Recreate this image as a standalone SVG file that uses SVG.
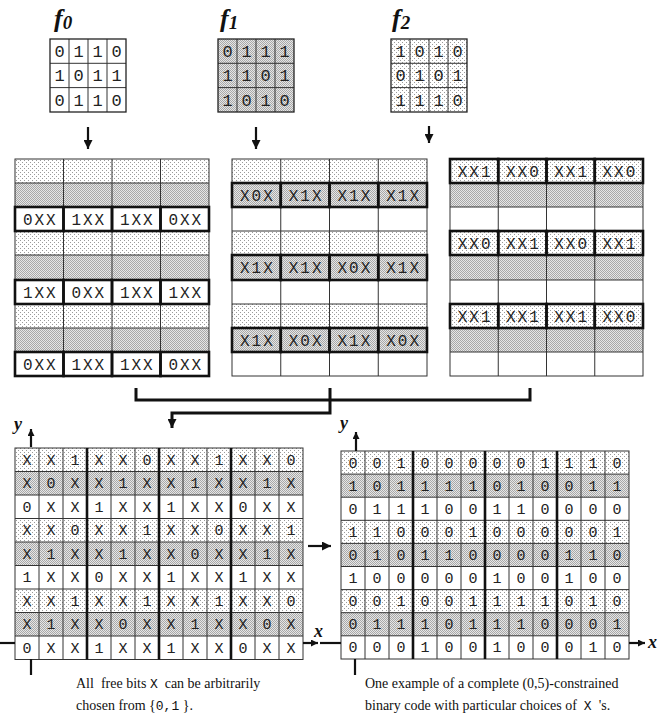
<svg xmlns="http://www.w3.org/2000/svg" width="667" height="717" viewBox="0 0 667 717">
<defs>
<pattern id="lite" width="4" height="4" patternUnits="userSpaceOnUse"><rect width="4" height="4" fill="#fff"/><rect width="1" height="1" fill="#9a9a9a"/><rect x="2" y="2" width="1" height="1" fill="#9a9a9a"/></pattern>
<pattern id="dense" width="2" height="2" patternUnits="userSpaceOnUse"><rect width="2" height="2" fill="#e6e6e6"/><rect width="1" height="1" fill="#a8a8a8"/><rect x="1" y="1" width="1" height="1" fill="#a8a8a8"/></pattern>
<marker id="ah" viewBox="0 0 10 10" refX="10" refY="5" markerWidth="7" markerHeight="7" markerUnits="userSpaceOnUse" orient="auto"><path d="M0,0 L10,5 L0,10 z" fill="#111"/></marker>
<marker id="ahb" viewBox="0 0 10 10" refX="10" refY="5" markerWidth="9" markerHeight="9" markerUnits="userSpaceOnUse" orient="auto"><path d="M0,0 L10,5 L0,10 z" fill="#111"/></marker>
</defs>
<style>
.g{stroke:#333;stroke-width:1;fill:none}
.gt{stroke:#111;stroke-width:2.6;fill:none}
.ob{stroke:#222;stroke-width:1.3;fill:none}
.bold{stroke:#111;stroke-width:2.6;fill:none}
.t{font-family:"Liberation Mono","DejaVu Sans Mono",monospace;fill:#222;text-anchor:middle}
.s17{font-size:17px}
.s16{font-size:16px;letter-spacing:2px}
.s15{font-size:15px}
.fl{font-family:"Liberation Serif","Times New Roman",serif;font-style:italic;font-weight:bold;font-size:26px;fill:#111}
.ax{font-family:"Liberation Serif","Times New Roman",serif;font-style:italic;font-weight:bold;font-size:18px;fill:#111}
.cap{font-family:"Liberation Serif","Times New Roman",serif;font-size:14px;fill:#111;white-space:pre}
.mono{font-family:"Liberation Mono",monospace;font-size:13px}
.con{stroke:#111;stroke-width:2.2;fill:none}
.cb{stroke:#111;stroke-width:3;fill:none}
</style>

<!-- f0 -->
<g id="f0">
<text class="fl" x="54" y="27">f<tspan font-size="19" dy="2">0</tspan></text>
<rect x="50" y="39" width="76" height="73" fill="#fff"/>
<path class="g" d="M69,39V112M88,39V112M107,39V112M50,63.3H126M50,87.6H126"/>
<rect class="ob" x="50" y="39" width="76" height="73"/>
<g class="t s17">
<text x="59.5" y="57">0</text><text x="78.5" y="57">1</text><text x="97.5" y="57">1</text><text x="116.5" y="57">0</text>
<text x="59.5" y="81.3">1</text><text x="78.5" y="81.3">0</text><text x="97.5" y="81.3">1</text><text x="116.5" y="81.3">1</text>
<text x="59.5" y="105.6">0</text><text x="78.5" y="105.6">1</text><text x="97.5" y="105.6">1</text><text x="116.5" y="105.6">0</text>
</g>
</g>

<!-- f1 -->
<g id="f1">
<text class="fl" x="220" y="27">f<tspan font-size="19" dy="2">1</tspan></text>
<rect x="218" y="39" width="76" height="73" fill="url(#dense)"/>
<path class="g" d="M237,39V112M256,39V112M275,39V112M218,63.3H294M218,87.6H294"/>
<rect class="ob" x="218" y="39" width="76" height="73"/>
<g class="t s17">
<text x="227.5" y="57">0</text><text x="246.5" y="57">1</text><text x="265.5" y="57">1</text><text x="284.5" y="57">1</text>
<text x="227.5" y="81.3">1</text><text x="246.5" y="81.3">1</text><text x="265.5" y="81.3">0</text><text x="284.5" y="81.3">1</text>
<text x="227.5" y="105.6">1</text><text x="246.5" y="105.6">0</text><text x="265.5" y="105.6">1</text><text x="284.5" y="105.6">0</text>
</g>
</g>

<!-- f2 -->
<g id="f2">
<text class="fl" x="392" y="27">f<tspan font-size="19" dy="2">2</tspan></text>
<rect x="391" y="39" width="76" height="73" fill="url(#lite)"/>
<path class="g" d="M410,39V112M429,39V112M448,39V112M391,63.3H467M391,87.6H467"/>
<rect class="ob" x="391" y="39" width="76" height="73"/>
<g class="t s17">
<text x="400.5" y="57">1</text><text x="419.5" y="57">0</text><text x="438.5" y="57">1</text><text x="457.5" y="57">0</text>
<text x="400.5" y="81.3">0</text><text x="419.5" y="81.3">1</text><text x="438.5" y="81.3">0</text><text x="457.5" y="81.3">1</text>
<text x="400.5" y="105.6">1</text><text x="419.5" y="105.6">1</text><text x="438.5" y="105.6">1</text><text x="457.5" y="105.6">0</text>
</g>
</g>

<!-- grid from f0 -->
<g id="grid0">
<rect x="15" y="159" width="194" height="24" fill="url(#lite)"/>
<rect x="15" y="183" width="194" height="24" fill="url(#dense)"/>
<rect x="15" y="207" width="194" height="24" fill="#fff"/>
<rect x="15" y="231" width="194" height="24" fill="url(#lite)"/>
<rect x="15" y="255" width="194" height="25" fill="url(#dense)"/>
<rect x="15" y="280" width="194" height="24" fill="#fff"/>
<rect x="15" y="304" width="194" height="24" fill="url(#lite)"/>
<rect x="15" y="328" width="194" height="24" fill="url(#dense)"/>
<rect x="15" y="352" width="194" height="24" fill="#fff"/>
<path class="g" d="M63.5,159V376M112,159V376M160.5,159V376M15,183H209M15,207H209M15,231H209M15,255H209M15,280H209M15,304H209M15,328H209M15,352H209"/>
<rect class="g" x="15" y="159" width="194" height="217"/>
<g class="bold">
<rect x="15" y="207" width="48.5" height="24"/><rect x="63.5" y="207" width="48.5" height="24"/><rect x="112" y="207" width="48.5" height="24"/><rect x="160.5" y="207" width="48.5" height="24"/>
<rect x="15" y="280" width="48.5" height="24"/><rect x="63.5" y="280" width="48.5" height="24"/><rect x="112" y="280" width="48.5" height="24"/><rect x="160.5" y="280" width="48.5" height="24"/>
<rect x="15" y="352" width="48.5" height="24"/><rect x="63.5" y="352" width="48.5" height="24"/><rect x="112" y="352" width="48.5" height="24"/><rect x="160.5" y="352" width="48.5" height="24"/>
</g>
<g class="t s16">
<text x="40.3" y="224.5">0XX</text><text x="88.8" y="224.5">1XX</text><text x="137.3" y="224.5">1XX</text><text x="185.8" y="224.5">0XX</text>
<text x="40.3" y="297.5">1XX</text><text x="88.8" y="297.5">0XX</text><text x="137.3" y="297.5">1XX</text><text x="185.8" y="297.5">1XX</text>
<text x="40.3" y="369.5">0XX</text><text x="88.8" y="369.5">1XX</text><text x="137.3" y="369.5">1XX</text><text x="185.8" y="369.5">0XX</text>
</g>
</g>

<!-- grid from f1 -->
<g id="grid1">
<rect x="232" y="159" width="195" height="24" fill="url(#lite)"/>
<rect x="232" y="183" width="195" height="24" fill="url(#dense)"/>
<rect x="232" y="207" width="195" height="24" fill="#fff"/>
<rect x="232" y="231" width="195" height="24" fill="url(#lite)"/>
<rect x="232" y="255" width="195" height="25" fill="url(#dense)"/>
<rect x="232" y="280" width="195" height="24" fill="#fff"/>
<rect x="232" y="304" width="195" height="24" fill="url(#lite)"/>
<rect x="232" y="328" width="195" height="24" fill="url(#dense)"/>
<rect x="232" y="352" width="195" height="24" fill="#fff"/>
<path class="g" d="M280.75,159V376M329.5,159V376M378.25,159V376M232,183H427M232,207H427M232,231H427M232,255H427M232,280H427M232,304H427M232,328H427M232,352H427"/>
<rect class="g" x="232" y="159" width="195" height="217"/>
<g class="bold">
<rect x="232" y="183" width="48.75" height="24"/><rect x="280.75" y="183" width="48.75" height="24"/><rect x="329.5" y="183" width="48.75" height="24"/><rect x="378.25" y="183" width="48.75" height="24"/>
<rect x="232" y="255" width="48.75" height="25"/><rect x="280.75" y="255" width="48.75" height="25"/><rect x="329.5" y="255" width="48.75" height="25"/><rect x="378.25" y="255" width="48.75" height="25"/>
<rect x="232" y="328" width="48.75" height="24"/><rect x="280.75" y="328" width="48.75" height="24"/><rect x="329.5" y="328" width="48.75" height="24"/><rect x="378.25" y="328" width="48.75" height="24"/>
</g>
<g class="t s16">
<text x="257.4" y="200.5">X0X</text><text x="306.1" y="200.5">X1X</text><text x="354.9" y="200.5">X1X</text><text x="403.6" y="200.5">X1X</text>
<text x="257.4" y="273">X1X</text><text x="306.1" y="273">X1X</text><text x="354.9" y="273">X0X</text><text x="403.6" y="273">X1X</text>
<text x="257.4" y="345.5">X1X</text><text x="306.1" y="345.5">X0X</text><text x="354.9" y="345.5">X1X</text><text x="403.6" y="345.5">X0X</text>
</g>
</g>

<!-- grid from f2 -->
<g id="grid2">
<rect x="450" y="159" width="193" height="24" fill="url(#lite)"/>
<rect x="450" y="183" width="193" height="24" fill="url(#dense)"/>
<rect x="450" y="207" width="193" height="24" fill="#fff"/>
<rect x="450" y="231" width="193" height="24" fill="url(#lite)"/>
<rect x="450" y="255" width="193" height="25" fill="url(#dense)"/>
<rect x="450" y="280" width="193" height="24" fill="#fff"/>
<rect x="450" y="304" width="193" height="24" fill="url(#lite)"/>
<rect x="450" y="328" width="193" height="24" fill="url(#dense)"/>
<rect x="450" y="352" width="193" height="24" fill="#fff"/>
<path class="g" d="M498.25,159V376M546.5,159V376M594.75,159V376M450,183H643M450,207H643M450,231H643M450,255H643M450,280H643M450,304H643M450,328H643M450,352H643"/>
<rect class="g" x="450" y="159" width="193" height="217"/>
<g class="bold">
<rect x="450" y="159" width="48.25" height="24"/><rect x="498.25" y="159" width="48.25" height="24"/><rect x="546.5" y="159" width="48.25" height="24"/><rect x="594.75" y="159" width="48.25" height="24"/>
<rect x="450" y="231" width="48.25" height="24"/><rect x="498.25" y="231" width="48.25" height="24"/><rect x="546.5" y="231" width="48.25" height="24"/><rect x="594.75" y="231" width="48.25" height="24"/>
<rect x="450" y="304" width="48.25" height="24"/><rect x="498.25" y="304" width="48.25" height="24"/><rect x="546.5" y="304" width="48.25" height="24"/><rect x="594.75" y="304" width="48.25" height="24"/>
</g>
<g class="t s16">
<text x="475.1" y="176.5">XX1</text><text x="523.4" y="176.5">XX0</text><text x="571.6" y="176.5">XX1</text><text x="619.9" y="176.5">XX0</text>
<text x="475.1" y="248.5">XX0</text><text x="523.4" y="248.5">XX1</text><text x="571.6" y="248.5">XX0</text><text x="619.9" y="248.5">XX1</text>
<text x="475.1" y="321.5">XX1</text><text x="523.4" y="321.5">XX1</text><text x="571.6" y="321.5">XX1</text><text x="619.9" y="321.5">XX0</text>
</g>
</g>

<!-- combined grid with free bits -->
<g id="combined">
<rect x="15" y="448" width="288" height="23.5" fill="url(#lite)"/>
<rect x="15" y="471.5" width="288" height="23.5" fill="url(#dense)"/>
<rect x="15" y="495" width="288" height="23.5" fill="#fff"/>
<rect x="15" y="518.5" width="288" height="23.5" fill="url(#lite)"/>
<rect x="15" y="542" width="288" height="23.5" fill="url(#dense)"/>
<rect x="15" y="565.5" width="288" height="23.5" fill="#fff"/>
<rect x="15" y="589" width="288" height="23.5" fill="url(#lite)"/>
<rect x="15" y="612.5" width="288" height="23.5" fill="url(#dense)"/>
<rect x="15" y="636" width="288" height="23.5" fill="#fff"/>
<path class="g" d="M39,448V659.5M63,448V659.5M111,448V659.5M135,448V659.5M183,448V659.5M207,448V659.5M255,448V659.5M279,448V659.5M15,471.5H303M15,495H303M15,518.5H303M15,542H303M15,565.5H303M15,589H303M15,612.5H303M15,636H303"/>
<rect class="g" x="15" y="448" width="288" height="211.5"/>
<path class="gt" d="M87,448V659.5M159,448V659.5M231,448V659.5"/>
<g class="t s15">
<text x="27" y="464.8">X</text><text x="51" y="464.8">X</text><text x="75" y="464.8">1</text><text x="99" y="464.8">X</text><text x="123" y="464.8">X</text><text x="147" y="464.8">0</text><text x="171" y="464.8">X</text><text x="195" y="464.8">X</text><text x="219" y="464.8">1</text><text x="243" y="464.8">X</text><text x="267" y="464.8">X</text><text x="291" y="464.8">0</text>
<text x="27" y="488.3">X</text><text x="51" y="488.3">0</text><text x="75" y="488.3">X</text><text x="99" y="488.3">X</text><text x="123" y="488.3">1</text><text x="147" y="488.3">X</text><text x="171" y="488.3">X</text><text x="195" y="488.3">1</text><text x="219" y="488.3">X</text><text x="243" y="488.3">X</text><text x="267" y="488.3">1</text><text x="291" y="488.3">X</text>
<text x="27" y="511.8">0</text><text x="51" y="511.8">X</text><text x="75" y="511.8">X</text><text x="99" y="511.8">1</text><text x="123" y="511.8">X</text><text x="147" y="511.8">X</text><text x="171" y="511.8">1</text><text x="195" y="511.8">X</text><text x="219" y="511.8">X</text><text x="243" y="511.8">0</text><text x="267" y="511.8">X</text><text x="291" y="511.8">X</text>
<text x="27" y="535.3">X</text><text x="51" y="535.3">X</text><text x="75" y="535.3">0</text><text x="99" y="535.3">X</text><text x="123" y="535.3">X</text><text x="147" y="535.3">1</text><text x="171" y="535.3">X</text><text x="195" y="535.3">X</text><text x="219" y="535.3">0</text><text x="243" y="535.3">X</text><text x="267" y="535.3">X</text><text x="291" y="535.3">1</text>
<text x="27" y="558.8">X</text><text x="51" y="558.8">1</text><text x="75" y="558.8">X</text><text x="99" y="558.8">X</text><text x="123" y="558.8">1</text><text x="147" y="558.8">X</text><text x="171" y="558.8">X</text><text x="195" y="558.8">0</text><text x="219" y="558.8">X</text><text x="243" y="558.8">X</text><text x="267" y="558.8">1</text><text x="291" y="558.8">X</text>
<text x="27" y="582.3">1</text><text x="51" y="582.3">X</text><text x="75" y="582.3">X</text><text x="99" y="582.3">0</text><text x="123" y="582.3">X</text><text x="147" y="582.3">X</text><text x="171" y="582.3">1</text><text x="195" y="582.3">X</text><text x="219" y="582.3">X</text><text x="243" y="582.3">1</text><text x="267" y="582.3">X</text><text x="291" y="582.3">X</text>
<text x="27" y="605.8">X</text><text x="51" y="605.8">X</text><text x="75" y="605.8">1</text><text x="99" y="605.8">X</text><text x="123" y="605.8">X</text><text x="147" y="605.8">1</text><text x="171" y="605.8">X</text><text x="195" y="605.8">X</text><text x="219" y="605.8">1</text><text x="243" y="605.8">X</text><text x="267" y="605.8">X</text><text x="291" y="605.8">0</text>
<text x="27" y="629.3">X</text><text x="51" y="629.3">1</text><text x="75" y="629.3">X</text><text x="99" y="629.3">X</text><text x="123" y="629.3">0</text><text x="147" y="629.3">X</text><text x="171" y="629.3">X</text><text x="195" y="629.3">1</text><text x="219" y="629.3">X</text><text x="243" y="629.3">X</text><text x="267" y="629.3">0</text><text x="291" y="629.3">X</text>
<text x="27" y="652.8">0</text><text x="51" y="652.8">X</text><text x="75" y="652.8">X</text><text x="99" y="652.8">1</text><text x="123" y="652.8">X</text><text x="147" y="652.8">X</text><text x="171" y="652.8">1</text><text x="195" y="652.8">X</text><text x="219" y="652.8">X</text><text x="243" y="652.8">0</text><text x="267" y="652.8">X</text><text x="291" y="652.8">X</text>
</g>
</g>

<!-- example complete code -->
<g id="example">
<rect x="341" y="451" width="288" height="23.1" fill="url(#lite)"/>
<rect x="341" y="474.1" width="288" height="23.1" fill="url(#dense)"/>
<rect x="341" y="497.2" width="288" height="23.1" fill="#fff"/>
<rect x="341" y="520.3" width="288" height="23.1" fill="url(#lite)"/>
<rect x="341" y="543.4" width="288" height="23.1" fill="url(#dense)"/>
<rect x="341" y="566.5" width="288" height="23.1" fill="#fff"/>
<rect x="341" y="589.6" width="288" height="23.1" fill="url(#lite)"/>
<rect x="341" y="612.7" width="288" height="23.1" fill="url(#dense)"/>
<rect x="341" y="635.8" width="288" height="23.2" fill="#fff"/>
<path class="g" d="M365,451V659M389,451V659M437,451V659M461,451V659M509,451V659M533,451V659M581,451V659M605,451V659M341,474.1H629M341,497.2H629M341,520.3H629M341,543.4H629M341,566.5H629M341,589.6H629M341,612.7H629M341,635.8H629"/>
<rect class="g" x="341" y="451" width="288" height="208"/>
<path class="gt" d="M413,451V659M485,451V659M557,451V659"/>
<g class="t s15">
<text x="353" y="467.6">0</text><text x="377" y="467.6">0</text><text x="401" y="467.6">1</text><text x="425" y="467.6">0</text><text x="449" y="467.6">0</text><text x="473" y="467.6">0</text><text x="497" y="467.6">0</text><text x="521" y="467.6">0</text><text x="545" y="467.6">1</text><text x="569" y="467.6">1</text><text x="593" y="467.6">1</text><text x="617" y="467.6">0</text>
<text x="353" y="490.7">1</text><text x="377" y="490.7">0</text><text x="401" y="490.7">1</text><text x="425" y="490.7">1</text><text x="449" y="490.7">1</text><text x="473" y="490.7">1</text><text x="497" y="490.7">0</text><text x="521" y="490.7">1</text><text x="545" y="490.7">0</text><text x="569" y="490.7">0</text><text x="593" y="490.7">1</text><text x="617" y="490.7">1</text>
<text x="353" y="513.8">0</text><text x="377" y="513.8">1</text><text x="401" y="513.8">1</text><text x="425" y="513.8">1</text><text x="449" y="513.8">0</text><text x="473" y="513.8">0</text><text x="497" y="513.8">1</text><text x="521" y="513.8">1</text><text x="545" y="513.8">0</text><text x="569" y="513.8">0</text><text x="593" y="513.8">0</text><text x="617" y="513.8">0</text>
<text x="353" y="536.9">1</text><text x="377" y="536.9">1</text><text x="401" y="536.9">0</text><text x="425" y="536.9">0</text><text x="449" y="536.9">0</text><text x="473" y="536.9">1</text><text x="497" y="536.9">0</text><text x="521" y="536.9">0</text><text x="545" y="536.9">0</text><text x="569" y="536.9">0</text><text x="593" y="536.9">0</text><text x="617" y="536.9">1</text>
<text x="353" y="560">0</text><text x="377" y="560">1</text><text x="401" y="560">0</text><text x="425" y="560">1</text><text x="449" y="560">1</text><text x="473" y="560">0</text><text x="497" y="560">0</text><text x="521" y="560">0</text><text x="545" y="560">0</text><text x="569" y="560">1</text><text x="593" y="560">1</text><text x="617" y="560">0</text>
<text x="353" y="583.1">1</text><text x="377" y="583.1">0</text><text x="401" y="583.1">0</text><text x="425" y="583.1">0</text><text x="449" y="583.1">0</text><text x="473" y="583.1">0</text><text x="497" y="583.1">1</text><text x="521" y="583.1">0</text><text x="545" y="583.1">0</text><text x="569" y="583.1">1</text><text x="593" y="583.1">0</text><text x="617" y="583.1">0</text>
<text x="353" y="606.2">0</text><text x="377" y="606.2">0</text><text x="401" y="606.2">1</text><text x="425" y="606.2">0</text><text x="449" y="606.2">0</text><text x="473" y="606.2">1</text><text x="497" y="606.2">1</text><text x="521" y="606.2">1</text><text x="545" y="606.2">1</text><text x="569" y="606.2">0</text><text x="593" y="606.2">1</text><text x="617" y="606.2">0</text>
<text x="353" y="629.3">0</text><text x="377" y="629.3">1</text><text x="401" y="629.3">1</text><text x="425" y="629.3">1</text><text x="449" y="629.3">0</text><text x="473" y="629.3">1</text><text x="497" y="629.3">1</text><text x="521" y="629.3">1</text><text x="545" y="629.3">0</text><text x="569" y="629.3">0</text><text x="593" y="629.3">0</text><text x="617" y="629.3">1</text>
<text x="353" y="652.4">0</text><text x="377" y="652.4">0</text><text x="401" y="652.4">0</text><text x="425" y="652.4">1</text><text x="449" y="652.4">0</text><text x="473" y="652.4">0</text><text x="497" y="652.4">1</text><text x="521" y="652.4">0</text><text x="545" y="652.4">0</text><text x="569" y="652.4">0</text><text x="593" y="652.4">1</text><text x="617" y="652.4">0</text>
</g>
</g>

<!-- axis labels and captions -->
<g id="labels">
<text class="ax" x="14" y="430">y</text>
<text class="ax" x="314" y="637">x</text>
<text class="ax" x="340" y="429">y</text>
<text class="ax" x="648" y="648">x</text>
<text class="cap" x="76" y="688">All  free bits <tspan class="mono">X</tspan>  can be arbitrarily</text>
<text class="cap" x="76" y="710">chosen from {<tspan class="mono">0,1</tspan> }.</text>
<text class="cap" x="365" y="688">One example of a complete (0,5)-constrained</text>
<text class="cap" x="365" y="710">binary code with particular choices of  <tspan class="mono">X</tspan>  's.</text>
</g>

<!-- connectors -->
<g id="connectors">
<line class="con" x1="88" y1="127" x2="88" y2="149" marker-end="url(#ahb)"/>
<line class="con" x1="256" y1="127" x2="256" y2="149" marker-end="url(#ahb)"/>
<line class="con" x1="429" y1="126" x2="429" y2="143" marker-end="url(#ahb)"/>
<path class="cb" d="M136,388V400H530V388"/>
<path class="cb" d="M330,388V413H172V428" marker-end="url(#ahb)"/>
<line class="con" x1="308" y1="546" x2="331" y2="546" marker-end="url(#ahb)"/>
<line class="con" x1="31" y1="447" x2="31" y2="429" stroke-width="1.5" marker-end="url(#ah)"/>
<line class="con" x1="356" y1="451" x2="356" y2="432" stroke-width="1.5" marker-end="url(#ah)"/>
<line class="con" x1="0" y1="643" x2="15" y2="643" stroke-width="1.5"/>
<line class="con" x1="303" y1="643" x2="318" y2="643" stroke-width="1.5" marker-end="url(#ah)"/>
<line class="con" x1="320" y1="643" x2="341" y2="643" stroke-width="1.5"/>
<line class="con" x1="629" y1="643" x2="645" y2="643" stroke-width="1.5" marker-end="url(#ah)"/>
<line class="con" x1="31" y1="659" x2="31" y2="675" stroke-width="1.5"/>
<line class="con" x1="355" y1="659" x2="355" y2="675" stroke-width="1.5"/>
</g>
</svg>
